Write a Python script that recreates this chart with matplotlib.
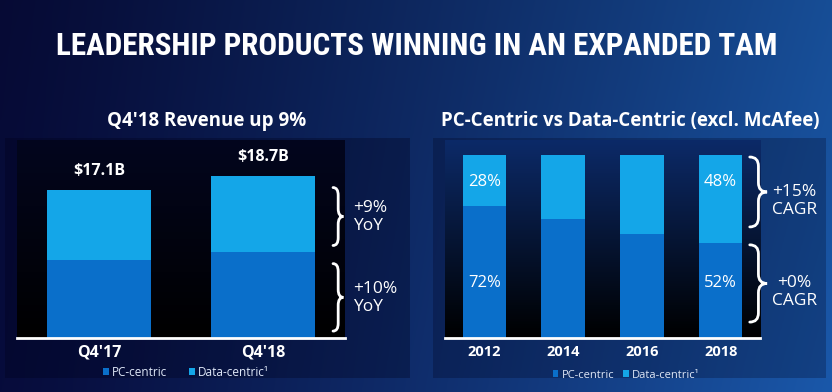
import numpy as np
import matplotlib
matplotlib.use('Agg')
import matplotlib.pyplot as plt
import matplotlib.patches as patches
from matplotlib import font_manager
from matplotlib.path import Path
from matplotlib.colors import to_rgb

plt.rcParams['font.family'] = ['Open Sans', 'DejaVu Sans']

# data
quarters = ["Q4'17", "Q4'18"]
pc_rev = [9.0, 9.9]
dc_rev = [8.1, 8.8]
rev_growth = ["+10%\nYoY", "+9%\nYoY"]

years = ['2012', '2014', '2016', '2018']
pc_share = [72, 65, 57, 52]
dc_share = [28, 35, 43, 48]
cagr = ["+0%\nCAGR", "+15%\nCAGR"]

PC_COL = '#0a6fca'
DC_COL = '#14a6e8'
W, H = 832, 392


def gradient(c_top, c_bot, n=256):
    a, b = np.array(to_rgb(c_top)), np.array(to_rgb(c_bot))
    t = np.linspace(0, 1, n)[:, None]
    return (a * (1 - t) + b * t)[:, None, :]


def brace(ax, x0, x1, y0, y1, r):
    # curly brace opening left, tip pointing right
    xm = (x0 + x1) / 2
    ym = (y0 + y1) / 2
    verts = [(x0, y1), (xm, y1), (xm, y1 - r),
             (xm, ym + r), (xm, ym), (x1, ym),
             (xm, ym), (xm, ym - r),
             (xm, y0 + r), (xm, y0), (x0, y0)]
    codes = [Path.MOVETO, Path.CURVE3, Path.CURVE3,
             Path.LINETO, Path.CURVE3, Path.CURVE3,
             Path.CURVE3, Path.CURVE3,
             Path.LINETO, Path.CURVE3, Path.CURVE3]
    ax.add_patch(patches.PathPatch(Path(verts, codes), fc='none', ec='white',
                                   lw=2, clip_on=False, capstyle='round'))


# pick a narrow face for the headline if there is one
title_kw = dict(family=['DejaVu Sans'], fontweight='bold')
ttf = font_manager.fontManager.ttflist
names = {f.name for f in ttf}
for cand in ['Liberation Sans Narrow', 'Roboto Condensed', 'Open Sans Condensed',
             'Noto Sans Condensed', 'DejaVu Sans Condensed']:
    if cand in names:
        title_kw = dict(family=[cand, 'DejaVu Sans'], fontweight='bold')
        break
else:
    for f in ttf:
        if f.stretch in ('condensed', 'semi-condensed', 'extra-condensed') \
                and 'Bold' in f.style + f.fname and f.weight in ('bold', 700):
            title_kw = dict(family=[f.name, 'DejaVu Sans'], fontweight='bold',
                            fontstretch=f.stretch)
            break

fig = plt.figure(figsize=(W / 100, H / 100), dpi=100)

# background
bg = fig.add_axes([0, 0, 1, 1])
xx = np.linspace(0, 1, 400)[None, :]
yy = np.linspace(0, 1, 200)[:, None]
left = np.array(to_rgb('#070c3c'))
right = np.array(to_rgb('#1a58aa'))
tx = (xx ** 1.2)[..., None]
img = left * (1 - tx) + right * tx
img = img * (1 - 0.12 * (1 - yy))[..., None]
bg.imshow(np.clip(img, 0, 1), extent=[0, W, H, 0], aspect='auto')
bg.set_xlim(0, W)
bg.set_ylim(H, 0)
bg.axis('off')

# panel boxes
bg.add_patch(patches.Rectangle((5, 138), 405, 240, fc='#000018', alpha=0.3, lw=0))
bg.add_patch(patches.Rectangle((433, 138), 393, 240, fc='#000018', alpha=0.25, lw=0))

head = fig.text(417 / W, 1 - 46 / H, 'LEADERSHIP PRODUCTS WINNING IN AN EXPANDED TAM',
                ha='center', va='center', color='white', fontsize=26, **title_kw)
# fit headline to the reference width
r = fig.canvas.get_renderer()
wpx = head.get_window_extent(r).width
head.set_fontsize(26 * 725 / wpx)

fig.text(207 / W, 1 - 121 / H, "Q4'18 Revenue up 9%", ha='center', va='center',
         color='white', fontsize=13.5, fontweight='bold')
fig.text(630 / W, 1 - 121 / H, 'PC-Centric vs Data-Centric (excl. McAfee)',
         ha='center', va='center', color='white', fontsize=13.5, fontweight='bold')

# left chart
ax1 = fig.add_axes([17 / W, 1 - 338 / H, 328 / W, 198 / H])
ax1.patch.set_alpha(0)
ax1.set_xlim(-0.5, 1.5)
ax1.set_ylim(0, 22.9)
ax1.imshow(gradient('#03061e', '#000000'), extent=[-0.5, 1.5, 0, 22.9],
           aspect='auto', zorder=0)
x1 = np.arange(len(quarters))
ax1.bar(x1, pc_rev, width=0.63, color=PC_COL, zorder=2, label='PC-centric')
ax1.bar(x1, dc_rev, width=0.63, bottom=pc_rev, color=DC_COL, zorder=2,
        label='Data-centric¹')
for xi, p, d in zip(x1, pc_rev, dc_rev):
    ax1.text(xi, p + d + 1.3, f'${p + d:.1f}B', ha='center', va='bottom',
             color='white', fontsize=11.5, fontweight='bold')
# braces
segs = [(0, pc_rev[1]), (pc_rev[1], pc_rev[1] + dc_rev[1])]
for (lo, hi), lab in zip(segs, rev_growth):
    brace(ax1, 1.427, 1.49, lo + 0.8, hi - 1.3, 0.9)
    ax1.text(1.55, (lo + hi) / 2 - 0.3, lab, ha='left', va='center', color='white',
             fontsize=12.5, linespacing=1.15)

# right chart
ax2 = fig.add_axes([445 / W, 1 - 338 / H, 315 / W, 198 / H])
ax2.patch.set_alpha(0)
ax2.set_xlim(-0.5, 3.5)
ax2.set_ylim(0, 108.2)
ax2.imshow(gradient('#0c2a68', '#000000'), extent=[-0.5, 3.5, 0, 108.2],
           aspect='auto', zorder=0)
x2 = np.arange(len(years))
ax2.bar(x2, pc_share, width=0.55, color=PC_COL, zorder=2, label='PC-centric')
ax2.bar(x2, dc_share, width=0.55, bottom=pc_share, color=DC_COL, zorder=2,
        label='Data-centric¹')
for i in (0, len(years) - 1):
    ax2.text(x2[i], 85, f'{dc_share[i]}%', ha='center', va='center',
             color='white', fontsize=12)
    ax2.text(x2[i], 30, f'{pc_share[i]}%', ha='center', va='center',
             color='white', fontsize=12)
segs = [(0, pc_share[-1]), (pc_share[-1], 100)]
for (lo, hi), lab in zip(segs, cagr):
    brace(ax2, 3.37, 3.59, lo + 8.7, hi - 1.1, 5)
    ax2.text(3.94, (lo + hi) / 2 - 1, lab, ha='center', va='center', color='white',
             fontsize=12.5, linespacing=1.15)

for ax, labels, fs in ((ax1, quarters, 11.5), (ax2, years, 10.5)):
    ax.set_xticks(np.arange(len(labels)))
    ax.set_xticklabels(labels, fontsize=fs, fontweight='bold', color='white')
    ax.tick_params(axis='x', length=0, pad=5)
    ax.set_yticks([])
    for s in ('top', 'left', 'right'):
        ax.spines[s].set_visible(False)
    ax.spines['bottom'].set_color('white')
    ax.spines['bottom'].set_linewidth(2)
    ax.spines['bottom'].set_zorder(3)

leg_kw = dict(ncol=2, frameon=False, fontsize=8.5, labelcolor='#dfe8f8',
              handlelength=0.5, handleheight=0.5, handletextpad=0.3,
              columnspacing=1.8, loc='center')
ax1.legend(bbox_to_anchor=(186 / W, 1 - 372 / H), bbox_transform=fig.transFigure,
           **leg_kw)
ax2.legend(bbox_to_anchor=(626 / W, 1 - 375 / H), bbox_transform=fig.transFigure,
           **{**leg_kw, 'fontsize': 8, 'columnspacing': 0.8})

fig.savefig('out.png', dpi=100)
